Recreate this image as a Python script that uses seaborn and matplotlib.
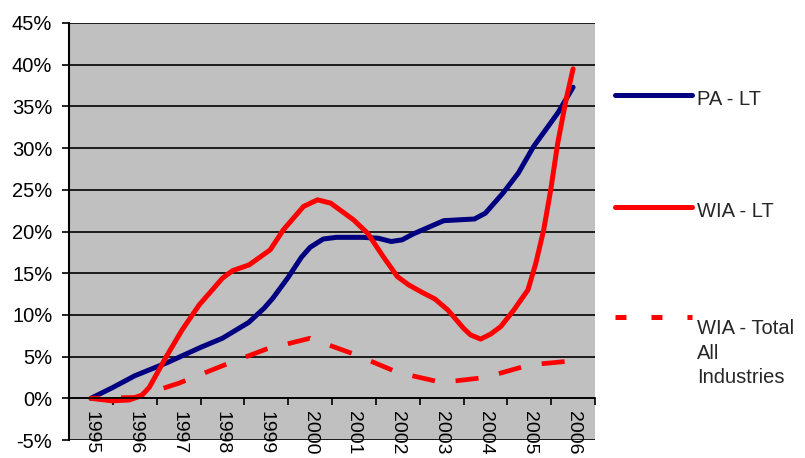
import numpy as np
import pandas as pd
import seaborn as sns
import matplotlib.pyplot as plt
from matplotlib.lines import Line2D

years = ["1995", "1996", "1997", "1998", "1999", "2000",
         "2001", "2002", "2003", "2004", "2005", "2006"]
yticks = [-5, 0, 5, 10, 15, 20, 25, 30, 35, 40, 45]

# x in category units: 0 = 1995 ... 11 = 2006, values in %
pa_x = [0, 0.5, 1.0, 1.75, 2.0, 2.5, 3.0, 3.6, 3.95, 4.15, 4.5, 4.8, 5.0, 5.3,
        5.6, 6.2, 6.55, 6.85, 7.1, 7.35, 7.7, 8.05, 8.75, 9.0, 9.4, 9.75,
        10.1, 10.65, 11.0]
pa_y = [0, 1.3, 2.7, 4.3, 4.9, 6.1, 7.2, 9.1, 10.8, 12.0, 14.5, 16.9, 18.1,
        19.1, 19.3, 19.3, 19.2, 18.8, 19.0, 19.7, 20.5, 21.3, 21.5, 22.2, 24.6,
        27.0, 30.2, 34.2, 37.3]

wia_x = [0, 0.48, 0.87, 1.15, 1.33, 1.72, 2.08, 2.47, 2.77, 3.0, 3.23, 3.61,
         4.09, 4.39, 4.85, 5.17, 5.47, 5.99, 6.31, 6.68, 6.99, 7.25, 7.52,
         7.85, 8.14, 8.5, 8.66, 8.89, 9.12, 9.35, 9.65, 9.97, 10.15, 10.33,
         10.49, 10.65, 10.84, 11.0]
wia_y = [0, -0.3, -0.2, 0.3, 1.3, 5.0, 8.2, 11.2, 13.0, 14.4, 15.3, 16.0,
         17.8, 20.2, 23.0, 23.8, 23.4, 21.4, 19.8, 16.9, 14.6, 13.6, 12.8,
         11.9, 10.6, 8.4, 7.6, 7.1, 7.7, 8.6, 10.6, 13.0, 16.2, 20.2, 25.0,
         30.6, 35.8, 39.5]

tot_x = list(range(12))
tot_y = [0, 0.1, 1.8, 3.9, 5.9, 7.2, 5.3, 3.1, 1.9, 2.5, 4.0, 4.5]

sns.set_style("white")
plt.rcParams['font.family'] = ['Liberation Sans', 'DejaVu Sans']
plt.rcParams['lines.scale_dashes'] = False

navy = '#000080'
red = '#ff0000'
fs = 14.5

fig = plt.figure(figsize=(8.05, 4.58), dpi=100)
ax = fig.add_axes([69 / 805, 18 / 458, 526 / 805, 417 / 458])
ax.set_facecolor('#c0c0c0')

sns.lineplot(x=pa_x, y=pa_y, color=navy, lw=3.6, solid_capstyle='round',
             solid_joinstyle='round', ax=ax)
sns.lineplot(x=wia_x, y=wia_y, color=red, lw=3.6, solid_capstyle='round',
             solid_joinstyle='round', ax=ax)
sns.lineplot(x=tot_x, y=tot_y, color=red, lw=3.4, ax=ax)
ax.lines[-1].set_linestyle((10, (16.6, 15.1)))

ax.set_xlim(-0.5, 11.5)
ax.set_ylim(-5, 45)
ax.set_yticks(yticks)
ax.set_yticklabels([f"{v}%" for v in yticks])
ax.yaxis.grid(True, color='black', lw=1.2)
ax.xaxis.grid(False)
ax.set_axisbelow(True)

for s in ['top', 'right']:
    ax.spines[s].set_visible(False)
ax.spines['left'].set_color('black')
ax.spines['left'].set_linewidth(1.5)
ax.spines['bottom'].set_position(('data', 0))
ax.spines['bottom'].set_color('black')
ax.spines['bottom'].set_linewidth(1.2)

# tick marks between categories, labels at the centres
ax.set_xticks(np.arange(-0.5, 12, 1))
ax.set_xticklabels([])
ax.set_xticks(range(12), minor=True)
ax.set_xticklabels(years, minor=True, rotation=-90)
ax.tick_params(axis='x', which='major', bottom=True, direction='out',
               length=5, width=1.2, color='black')
ax.tick_params(axis='x', which='minor', bottom=True, length=0, pad=9,
               labelsize=14, labelcolor='black')
ax.tick_params(axis='y', left=True, direction='out', length=5, width=1.2,
               color='black', pad=7, labelsize=fs, labelcolor='black')
ax.set_xlabel("")
ax.set_ylabel("")

# legend drawn by hand so the line sits on the first text row
W, H = 805, 458
entries = [("PA - LT", navy, '-', 95, 105),
           ("WIA - LT", red, '-', 207, 217),
           ("WIA - Total\nAll\nIndustries", red, (0, (7.9, 18)), 317, 383)]
for label, col, ls, ly, ty in entries:
    fig.add_artist(Line2D([615 / W, 692 / W], [1 - ly / H] * 2,
                          transform=fig.transFigure, color=col, lw=3.6,
                          linestyle=ls, solid_capstyle='round'))
    fig.text(697 / W, 1 - ty / H, label, fontsize=fs, va='baseline',
             ha='left', linespacing=1.35)

fig.savefig("out.png", dpi=100)
